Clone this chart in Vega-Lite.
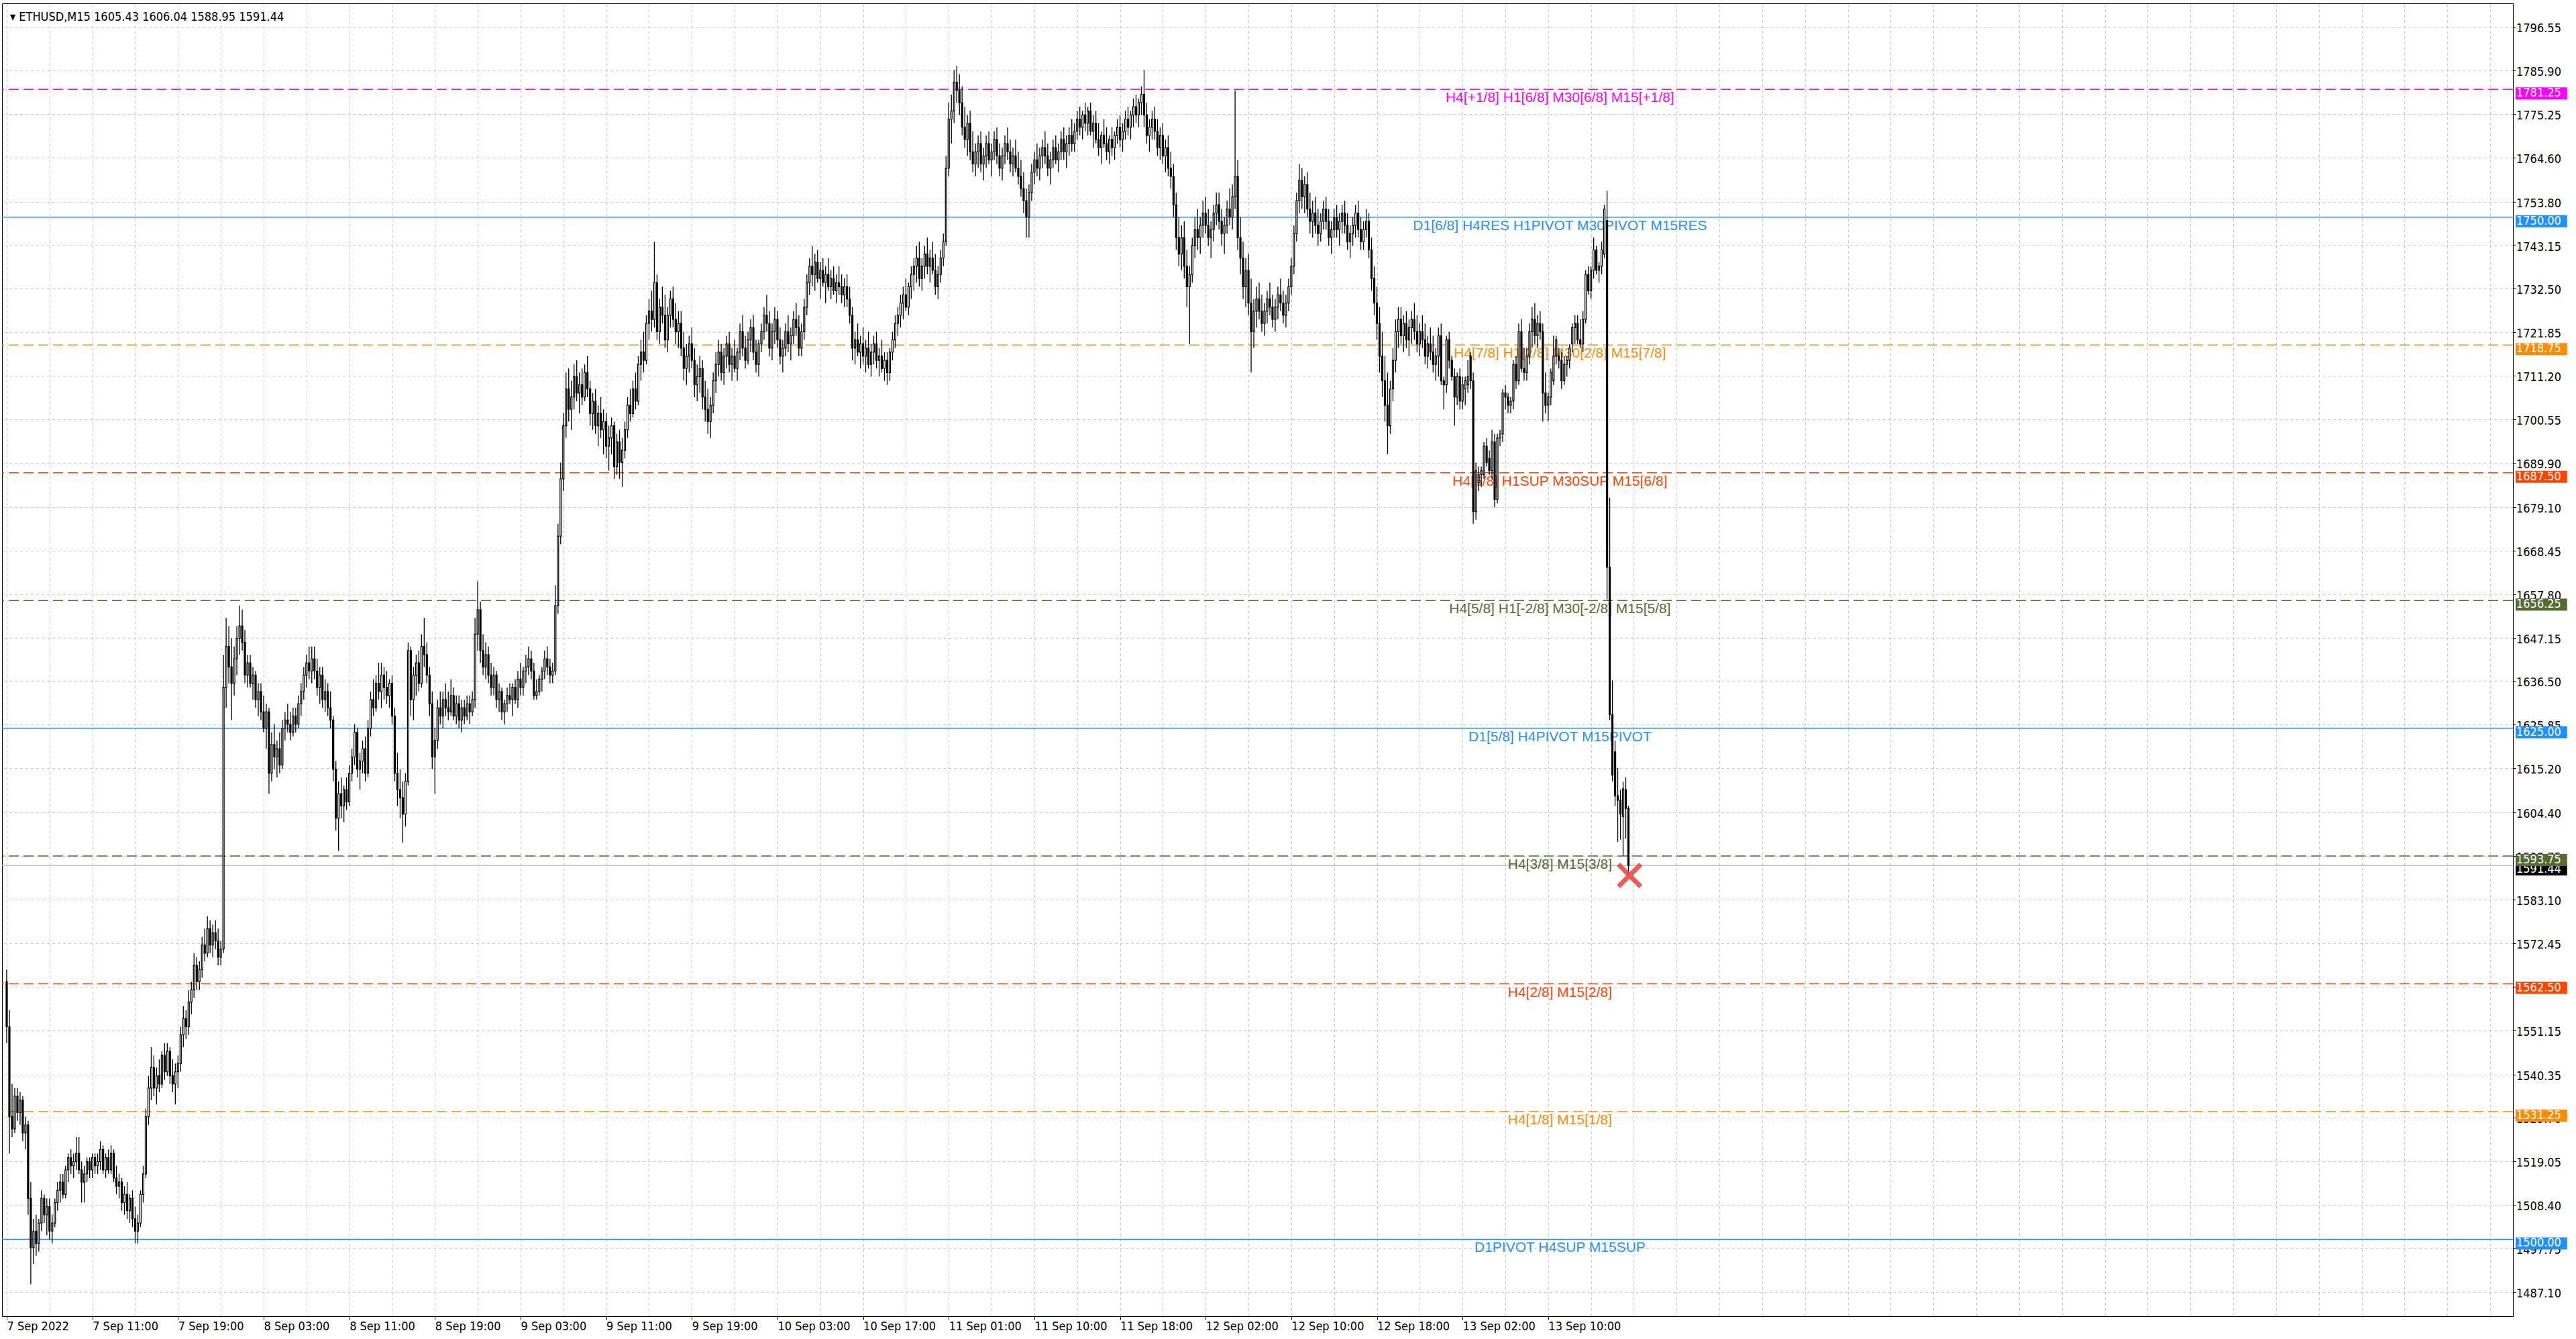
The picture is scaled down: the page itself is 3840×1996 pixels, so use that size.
{
  "$schema": "https://vega.github.io/schema/vega-lite/v6.json",
  "description": "ETHUSD M15 candles with Murrey math levels",
  "width": 3743,
  "height": 1957,
  "autosize": {"type": "none"},
  "padding": {"left": 3, "top": 5, "right": 94, "bottom": 34},
  "background": "white",
  "config": {
    "view": {"stroke": "black", "strokeWidth": 1},
    "axis": {
      "labelFont": "DejaVu Sans Condensed",
      "labelFontSize": 18,
      "labelColor": "black",
      "domainColor": "black",
      "tickColor": "black",
      "gridColor": "#c4c4c4",
      "gridDash": [4, 4],
      "gridWidth": 1,
      "zindex": 0
    }
  },
  "datasets": {
    "levels": [
      {"price": 1781.25, "label": "H4[+1/8] H1[6/8] M30[6/8] M15[+1/8]", "kind": "ext"},
      {"price": 1750.00, "label": "D1[6/8] H4RES H1PIVOT M30PIVOT M15RES", "kind": "major"},
      {"price": 1718.75, "label": "H4[7/8] H1[2/8] M30[2/8] M15[7/8]", "kind": "weak"},
      {"price": 1687.50, "label": "H4[6/8] H1SUP M30SUP M15[6/8]", "kind": "rev"},
      {"price": 1656.25, "label": "H4[5/8] H1[-2/8] M30[-2/8] M15[5/8]", "kind": "range"},
      {"price": 1625.00, "label": "D1[5/8] H4PIVOT M15PIVOT", "kind": "major"},
      {"price": 1593.75, "label": "H4[3/8] M15[3/8]", "kind": "range"},
      {"price": 1562.50, "label": "H4[2/8] M15[2/8]", "kind": "rev"},
      {"price": 1531.25, "label": "H4[1/8] M15[1/8]", "kind": "weak"},
      {"price": 1500.00, "label": "D1PIVOT H4SUP M15SUP", "kind": "major"}
    ],
    "yticks": [
      {"v": 1487.10}, {"v": 1497.75}, {"v": 1508.40}, {"v": 1519.05}, {"v": 1529.70}, {"v": 1540.35},
      {"v": 1551.15}, {"v": 1561.80}, {"v": 1572.45}, {"v": 1583.10}, {"v": 1593.75}, {"v": 1604.40},
      {"v": 1615.20}, {"v": 1625.85}, {"v": 1636.50}, {"v": 1647.15}, {"v": 1657.80}, {"v": 1668.45},
      {"v": 1679.10}, {"v": 1689.90}, {"v": 1700.55}, {"v": 1711.20}, {"v": 1721.85}, {"v": 1732.50},
      {"v": 1743.15}, {"v": 1753.80}, {"v": 1764.60}, {"v": 1775.25}, {"v": 1785.90}, {"v": 1796.55}
    ],
    "bid": [{"price": 1591.44}],
    "marker": [{"i": 606.4, "p": 1589.0}],
    "header": [{"text": "▾  ETHUSD,M15  1605.43 1606.04 1588.95 1591.44"}],
    "bars": [
      {"i":0,"o":1563,"h":1566,"l":1548,"c":1552},
      {"i":1,"o":1552,"h":1556,"l":1521,"c":1530},
      {"i":2,"o":1530,"h":1538,"l":1525,"c":1527},
      {"i":3,"o":1527,"h":1537,"l":1526,"c":1535},
      {"i":4,"o":1535,"h":1537,"l":1529,"c":1531},
      {"i":5,"o":1531,"h":1536,"l":1528,"c":1534},
      {"i":6,"o":1534,"h":1535,"l":1524,"c":1526},
      {"i":7,"o":1526,"h":1530,"l":1522,"c":1528},
      {"i":8,"o":1528,"h":1529,"l":1506,"c":1510},
      {"i":9,"o":1510,"h":1514,"l":1489,"c":1498},
      {"i":10,"o":1498,"h":1505,"l":1494,"c":1502},
      {"i":11,"o":1502,"h":1506,"l":1496,"c":1499},
      {"i":12,"o":1499,"h":1505,"l":1497,"c":1504},
      {"i":13,"o":1504,"h":1512,"l":1502,"c":1510},
      {"i":14,"o":1510,"h":1511,"l":1504,"c":1506},
      {"i":15,"o":1506,"h":1510,"l":1501,"c":1508},
      {"i":16,"o":1508,"h":1510,"l":1500,"c":1502},
      {"i":17,"o":1502,"h":1506,"l":1499,"c":1504},
      {"i":18,"o":1504,"h":1510,"l":1503,"c":1509},
      {"i":19,"o":1509,"h":1514,"l":1507,"c":1512},
      {"i":20,"o":1512,"h":1516,"l":1509,"c":1514},
      {"i":21,"o":1514,"h":1516,"l":1510,"c":1511},
      {"i":22,"o":1511,"h":1518,"l":1510,"c":1517},
      {"i":23,"o":1517,"h":1521,"l":1514,"c":1520},
      {"i":24,"o":1520,"h":1522,"l":1516,"c":1518},
      {"i":25,"o":1518,"h":1521,"l":1515,"c":1519},
      {"i":26,"o":1519,"h":1525,"l":1517,"c":1521},
      {"i":27,"o":1521,"h":1525,"l":1516,"c":1517},
      {"i":28,"o":1517,"h":1519,"l":1509,"c":1514},
      {"i":29,"o":1514,"h":1518,"l":1509,"c":1516},
      {"i":30,"o":1516,"h":1520,"l":1514,"c":1519},
      {"i":31,"o":1519,"h":1520,"l":1515,"c":1517},
      {"i":32,"o":1517,"h":1521,"l":1515,"c":1520},
      {"i":33,"o":1520,"h":1521,"l":1516,"c":1518},
      {"i":34,"o":1518,"h":1521,"l":1516,"c":1519},
      {"i":35,"o":1519,"h":1524,"l":1517,"c":1522},
      {"i":36,"o":1522,"h":1523,"l":1516,"c":1517},
      {"i":37,"o":1517,"h":1521,"l":1515,"c":1520},
      {"i":38,"o":1520,"h":1522,"l":1516,"c":1517},
      {"i":39,"o":1517,"h":1523,"l":1516,"c":1521},
      {"i":40,"o":1521,"h":1522,"l":1514,"c":1515},
      {"i":41,"o":1515,"h":1518,"l":1511,"c":1513},
      {"i":42,"o":1513,"h":1516,"l":1510,"c":1514},
      {"i":43,"o":1514,"h":1515,"l":1507,"c":1509},
      {"i":44,"o":1509,"h":1513,"l":1506,"c":1511},
      {"i":45,"o":1511,"h":1514,"l":1505,"c":1507},
      {"i":46,"o":1507,"h":1511,"l":1504,"c":1510},
      {"i":47,"o":1510,"h":1512,"l":1503,"c":1505},
      {"i":48,"o":1505,"h":1508,"l":1499,"c":1502},
      {"i":49,"o":1502,"h":1506,"l":1499,"c":1504},
      {"i":50,"o":1504,"h":1512,"l":1503,"c":1511},
      {"i":51,"o":1511,"h":1518,"l":1509,"c":1516},
      {"i":52,"o":1516,"h":1532,"l":1515,"c":1530},
      {"i":53,"o":1530,"h":1540,"l":1528,"c":1537},
      {"i":54,"o":1537,"h":1547,"l":1534,"c":1542},
      {"i":55,"o":1542,"h":1545,"l":1535,"c":1537},
      {"i":56,"o":1537,"h":1542,"l":1533,"c":1540},
      {"i":57,"o":1540,"h":1544,"l":1536,"c":1538},
      {"i":58,"o":1538,"h":1546,"l":1537,"c":1545},
      {"i":59,"o":1545,"h":1548,"l":1539,"c":1541},
      {"i":60,"o":1541,"h":1548,"l":1540,"c":1546},
      {"i":61,"o":1546,"h":1547,"l":1538,"c":1540},
      {"i":62,"o":1540,"h":1544,"l":1536,"c":1538},
      {"i":63,"o":1538,"h":1543,"l":1533,"c":1541},
      {"i":64,"o":1541,"h":1545,"l":1537,"c":1543},
      {"i":65,"o":1543,"h":1552,"l":1541,"c":1550},
      {"i":66,"o":1550,"h":1557,"l":1547,"c":1554},
      {"i":67,"o":1554,"h":1556,"l":1549,"c":1552},
      {"i":68,"o":1552,"h":1561,"l":1550,"c":1558},
      {"i":69,"o":1558,"h":1563,"l":1555,"c":1561},
      {"i":70,"o":1561,"h":1570,"l":1559,"c":1567},
      {"i":71,"o":1567,"h":1569,"l":1561,"c":1563},
      {"i":72,"o":1563,"h":1568,"l":1561,"c":1566},
      {"i":73,"o":1566,"h":1574,"l":1564,"c":1572},
      {"i":74,"o":1572,"h":1576,"l":1568,"c":1570},
      {"i":75,"o":1570,"h":1579,"l":1569,"c":1576},
      {"i":76,"o":1576,"h":1578,"l":1570,"c":1572},
      {"i":77,"o":1572,"h":1577,"l":1569,"c":1575},
      {"i":78,"o":1575,"h":1578,"l":1571,"c":1573},
      {"i":79,"o":1573,"h":1576,"l":1567,"c":1569},
      {"i":80,"o":1569,"h":1573,"l":1567,"c":1571},
      {"i":81,"o":1571,"h":1643,"l":1570,"c":1635},
      {"i":82,"o":1635,"h":1652,"l":1630,"c":1645},
      {"i":83,"o":1645,"h":1650,"l":1636,"c":1640},
      {"i":84,"o":1640,"h":1647,"l":1627,"c":1636},
      {"i":85,"o":1636,"h":1645,"l":1633,"c":1642},
      {"i":86,"o":1642,"h":1650,"l":1638,"c":1647},
      {"i":87,"o":1647,"h":1655,"l":1643,"c":1650},
      {"i":88,"o":1650,"h":1654,"l":1644,"c":1646},
      {"i":89,"o":1646,"h":1649,"l":1636,"c":1638},
      {"i":90,"o":1638,"h":1643,"l":1635,"c":1641},
      {"i":91,"o":1641,"h":1643,"l":1635,"c":1636},
      {"i":92,"o":1636,"h":1640,"l":1632,"c":1638},
      {"i":93,"o":1638,"h":1639,"l":1630,"c":1632},
      {"i":94,"o":1632,"h":1636,"l":1628,"c":1634},
      {"i":95,"o":1634,"h":1636,"l":1627,"c":1629},
      {"i":96,"o":1629,"h":1633,"l":1624,"c":1625},
      {"i":97,"o":1625,"h":1631,"l":1620,"c":1629},
      {"i":98,"o":1629,"h":1630,"l":1609,"c":1614},
      {"i":99,"o":1614,"h":1624,"l":1612,"c":1621},
      {"i":100,"o":1621,"h":1626,"l":1615,"c":1618},
      {"i":101,"o":1618,"h":1622,"l":1613,"c":1620},
      {"i":102,"o":1620,"h":1624,"l":1614,"c":1616},
      {"i":103,"o":1616,"h":1627,"l":1615,"c":1625},
      {"i":104,"o":1625,"h":1629,"l":1622,"c":1627},
      {"i":105,"o":1627,"h":1631,"l":1624,"c":1626},
      {"i":106,"o":1626,"h":1629,"l":1622,"c":1624},
      {"i":107,"o":1624,"h":1630,"l":1623,"c":1628},
      {"i":108,"o":1628,"h":1630,"l":1624,"c":1626},
      {"i":109,"o":1626,"h":1633,"l":1625,"c":1631},
      {"i":110,"o":1631,"h":1636,"l":1628,"c":1634},
      {"i":111,"o":1634,"h":1640,"l":1632,"c":1638},
      {"i":112,"o":1638,"h":1643,"l":1635,"c":1641},
      {"i":113,"o":1641,"h":1645,"l":1637,"c":1639},
      {"i":114,"o":1639,"h":1645,"l":1636,"c":1642},
      {"i":115,"o":1642,"h":1645,"l":1637,"c":1639},
      {"i":116,"o":1639,"h":1642,"l":1633,"c":1635},
      {"i":117,"o":1635,"h":1640,"l":1631,"c":1638},
      {"i":118,"o":1638,"h":1640,"l":1630,"c":1632},
      {"i":119,"o":1632,"h":1637,"l":1629,"c":1634},
      {"i":120,"o":1634,"h":1636,"l":1628,"c":1630},
      {"i":121,"o":1630,"h":1634,"l":1625,"c":1627},
      {"i":122,"o":1627,"h":1628,"l":1612,"c":1615},
      {"i":123,"o":1615,"h":1617,"l":1600,"c":1603},
      {"i":124,"o":1603,"h":1612,"l":1595,"c":1609},
      {"i":125,"o":1609,"h":1613,"l":1603,"c":1606},
      {"i":126,"o":1606,"h":1611,"l":1602,"c":1610},
      {"i":127,"o":1610,"h":1613,"l":1605,"c":1607},
      {"i":128,"o":1607,"h":1616,"l":1606,"c":1614},
      {"i":129,"o":1614,"h":1620,"l":1612,"c":1618},
      {"i":130,"o":1618,"h":1626,"l":1616,"c":1624},
      {"i":131,"o":1624,"h":1625,"l":1613,"c":1615},
      {"i":132,"o":1615,"h":1619,"l":1610,"c":1617},
      {"i":133,"o":1617,"h":1622,"l":1614,"c":1620},
      {"i":134,"o":1620,"h":1623,"l":1612,"c":1614},
      {"i":135,"o":1614,"h":1627,"l":1613,"c":1625},
      {"i":136,"o":1625,"h":1634,"l":1623,"c":1632},
      {"i":137,"o":1632,"h":1637,"l":1628,"c":1630},
      {"i":138,"o":1630,"h":1638,"l":1629,"c":1636},
      {"i":139,"o":1636,"h":1641,"l":1632,"c":1634},
      {"i":140,"o":1634,"h":1641,"l":1630,"c":1638},
      {"i":141,"o":1638,"h":1640,"l":1632,"c":1635},
      {"i":142,"o":1635,"h":1639,"l":1631,"c":1633},
      {"i":143,"o":1633,"h":1637,"l":1630,"c":1636},
      {"i":144,"o":1636,"h":1638,"l":1626,"c":1628},
      {"i":145,"o":1628,"h":1630,"l":1612,"c":1614},
      {"i":146,"o":1614,"h":1619,"l":1606,"c":1610},
      {"i":147,"o":1610,"h":1615,"l":1603,"c":1608},
      {"i":148,"o":1608,"h":1612,"l":1597,"c":1604},
      {"i":149,"o":1604,"h":1614,"l":1601,"c":1612},
      {"i":150,"o":1612,"h":1646,"l":1611,"c":1644},
      {"i":151,"o":1644,"h":1645,"l":1628,"c":1632},
      {"i":152,"o":1632,"h":1640,"l":1627,"c":1638},
      {"i":153,"o":1638,"h":1643,"l":1633,"c":1641},
      {"i":154,"o":1641,"h":1644,"l":1634,"c":1636},
      {"i":155,"o":1636,"h":1648,"l":1635,"c":1645},
      {"i":156,"o":1645,"h":1652,"l":1640,"c":1643},
      {"i":157,"o":1643,"h":1646,"l":1636,"c":1638},
      {"i":158,"o":1638,"h":1640,"l":1628,"c":1631},
      {"i":159,"o":1631,"h":1634,"l":1615,"c":1618},
      {"i":160,"o":1618,"h":1625,"l":1609,"c":1622},
      {"i":161,"o":1622,"h":1632,"l":1620,"c":1630},
      {"i":162,"o":1630,"h":1634,"l":1626,"c":1628},
      {"i":163,"o":1628,"h":1634,"l":1625,"c":1632},
      {"i":164,"o":1632,"h":1636,"l":1628,"c":1630},
      {"i":165,"o":1630,"h":1634,"l":1627,"c":1629},
      {"i":166,"o":1629,"h":1637,"l":1628,"c":1633},
      {"i":167,"o":1633,"h":1635,"l":1627,"c":1628},
      {"i":168,"o":1628,"h":1633,"l":1626,"c":1631},
      {"i":169,"o":1631,"h":1633,"l":1625,"c":1627},
      {"i":170,"o":1627,"h":1632,"l":1624,"c":1630},
      {"i":171,"o":1630,"h":1632,"l":1626,"c":1628},
      {"i":172,"o":1628,"h":1633,"l":1627,"c":1631},
      {"i":173,"o":1631,"h":1633,"l":1626,"c":1629},
      {"i":174,"o":1629,"h":1634,"l":1628,"c":1632},
      {"i":175,"o":1632,"h":1652,"l":1630,"c":1648},
      {"i":176,"o":1648,"h":1661,"l":1644,"c":1654},
      {"i":177,"o":1654,"h":1656,"l":1641,"c":1644},
      {"i":178,"o":1644,"h":1648,"l":1638,"c":1640},
      {"i":179,"o":1640,"h":1646,"l":1637,"c":1643},
      {"i":180,"o":1643,"h":1645,"l":1636,"c":1638},
      {"i":181,"o":1638,"h":1641,"l":1633,"c":1635},
      {"i":182,"o":1635,"h":1640,"l":1633,"c":1638},
      {"i":183,"o":1638,"h":1639,"l":1630,"c":1632},
      {"i":184,"o":1632,"h":1636,"l":1629,"c":1634},
      {"i":185,"o":1634,"h":1635,"l":1627,"c":1629},
      {"i":186,"o":1629,"h":1632,"l":1626,"c":1631},
      {"i":187,"o":1631,"h":1635,"l":1629,"c":1633},
      {"i":188,"o":1633,"h":1636,"l":1631,"c":1632},
      {"i":189,"o":1632,"h":1636,"l":1628,"c":1635},
      {"i":190,"o":1635,"h":1637,"l":1631,"c":1632},
      {"i":191,"o":1632,"h":1639,"l":1630,"c":1637},
      {"i":192,"o":1637,"h":1641,"l":1633,"c":1635},
      {"i":193,"o":1635,"h":1640,"l":1633,"c":1639},
      {"i":194,"o":1639,"h":1643,"l":1636,"c":1640},
      {"i":195,"o":1640,"h":1645,"l":1638,"c":1642},
      {"i":196,"o":1642,"h":1644,"l":1637,"c":1639},
      {"i":197,"o":1639,"h":1641,"l":1632,"c":1633},
      {"i":198,"o":1633,"h":1637,"l":1632,"c":1634},
      {"i":199,"o":1634,"h":1638,"l":1633,"c":1637},
      {"i":200,"o":1637,"h":1640,"l":1634,"c":1639},
      {"i":201,"o":1639,"h":1644,"l":1637,"c":1642},
      {"i":202,"o":1642,"h":1645,"l":1638,"c":1640},
      {"i":203,"o":1640,"h":1642,"l":1636,"c":1638},
      {"i":204,"o":1638,"h":1641,"l":1636,"c":1639},
      {"i":205,"o":1639,"h":1660,"l":1638,"c":1655},
      {"i":206,"o":1655,"h":1675,"l":1653,"c":1672},
      {"i":207,"o":1672,"h":1690,"l":1670,"c":1686},
      {"i":208,"o":1686,"h":1702,"l":1683,"c":1699},
      {"i":209,"o":1699,"h":1712,"l":1696,"c":1708},
      {"i":210,"o":1708,"h":1713,"l":1700,"c":1703},
      {"i":211,"o":1703,"h":1710,"l":1698,"c":1706},
      {"i":212,"o":1706,"h":1714,"l":1703,"c":1711},
      {"i":213,"o":1711,"h":1715,"l":1705,"c":1707},
      {"i":214,"o":1707,"h":1712,"l":1702,"c":1709},
      {"i":215,"o":1709,"h":1713,"l":1704,"c":1706},
      {"i":216,"o":1706,"h":1714,"l":1705,"c":1712},
      {"i":217,"o":1712,"h":1716,"l":1706,"c":1708},
      {"i":218,"o":1708,"h":1710,"l":1699,"c":1702},
      {"i":219,"o":1702,"h":1707,"l":1698,"c":1705},
      {"i":220,"o":1705,"h":1708,"l":1697,"c":1699},
      {"i":221,"o":1699,"h":1704,"l":1694,"c":1702},
      {"i":222,"o":1702,"h":1706,"l":1696,"c":1698},
      {"i":223,"o":1698,"h":1703,"l":1692,"c":1700},
      {"i":224,"o":1700,"h":1702,"l":1691,"c":1694},
      {"i":225,"o":1694,"h":1699,"l":1688,"c":1696},
      {"i":226,"o":1696,"h":1701,"l":1692,"c":1699},
      {"i":227,"o":1699,"h":1700,"l":1686,"c":1689},
      {"i":228,"o":1689,"h":1697,"l":1687,"c":1695},
      {"i":229,"o":1695,"h":1698,"l":1686,"c":1690},
      {"i":230,"o":1690,"h":1696,"l":1684,"c":1693},
      {"i":231,"o":1693,"h":1700,"l":1691,"c":1698},
      {"i":232,"o":1698,"h":1706,"l":1696,"c":1704},
      {"i":233,"o":1704,"h":1708,"l":1700,"c":1702},
      {"i":234,"o":1702,"h":1710,"l":1701,"c":1708},
      {"i":235,"o":1708,"h":1712,"l":1703,"c":1705},
      {"i":236,"o":1705,"h":1716,"l":1704,"c":1714},
      {"i":237,"o":1714,"h":1720,"l":1710,"c":1717},
      {"i":238,"o":1717,"h":1722,"l":1712,"c":1715},
      {"i":239,"o":1715,"h":1726,"l":1714,"c":1724},
      {"i":240,"o":1724,"h":1730,"l":1720,"c":1727},
      {"i":241,"o":1727,"h":1732,"l":1722,"c":1725},
      {"i":242,"o":1725,"h":1744,"l":1723,"c":1734},
      {"i":243,"o":1734,"h":1736,"l":1720,"c":1722},
      {"i":244,"o":1722,"h":1730,"l":1719,"c":1728},
      {"i":245,"o":1728,"h":1733,"l":1724,"c":1726},
      {"i":246,"o":1726,"h":1731,"l":1718,"c":1720},
      {"i":247,"o":1720,"h":1728,"l":1717,"c":1726},
      {"i":248,"o":1726,"h":1732,"l":1723,"c":1730},
      {"i":249,"o":1730,"h":1733,"l":1723,"c":1725},
      {"i":250,"o":1725,"h":1729,"l":1719,"c":1722},
      {"i":251,"o":1722,"h":1727,"l":1718,"c":1724},
      {"i":252,"o":1724,"h":1727,"l":1716,"c":1718},
      {"i":253,"o":1718,"h":1722,"l":1710,"c":1713},
      {"i":254,"o":1713,"h":1719,"l":1709,"c":1716},
      {"i":255,"o":1716,"h":1721,"l":1712,"c":1719},
      {"i":256,"o":1719,"h":1723,"l":1713,"c":1715},
      {"i":257,"o":1715,"h":1718,"l":1706,"c":1709},
      {"i":258,"o":1709,"h":1714,"l":1705,"c":1711},
      {"i":259,"o":1711,"h":1716,"l":1707,"c":1713},
      {"i":260,"o":1713,"h":1715,"l":1703,"c":1706},
      {"i":261,"o":1706,"h":1710,"l":1700,"c":1703},
      {"i":262,"o":1703,"h":1708,"l":1697,"c":1700},
      {"i":263,"o":1700,"h":1706,"l":1696,"c":1704},
      {"i":264,"o":1704,"h":1712,"l":1702,"c":1710},
      {"i":265,"o":1710,"h":1717,"l":1707,"c":1714},
      {"i":266,"o":1714,"h":1720,"l":1711,"c":1717},
      {"i":267,"o":1717,"h":1719,"l":1710,"c":1712},
      {"i":268,"o":1712,"h":1718,"l":1709,"c":1716},
      {"i":269,"o":1716,"h":1721,"l":1713,"c":1719},
      {"i":270,"o":1719,"h":1722,"l":1712,"c":1714},
      {"i":271,"o":1714,"h":1718,"l":1710,"c":1716},
      {"i":272,"o":1716,"h":1720,"l":1712,"c":1713},
      {"i":273,"o":1713,"h":1718,"l":1710,"c":1717},
      {"i":274,"o":1717,"h":1724,"l":1715,"c":1722},
      {"i":275,"o":1722,"h":1726,"l":1716,"c":1718},
      {"i":276,"o":1718,"h":1721,"l":1713,"c":1715},
      {"i":277,"o":1715,"h":1722,"l":1714,"c":1720},
      {"i":278,"o":1720,"h":1725,"l":1717,"c":1723},
      {"i":279,"o":1723,"h":1726,"l":1715,"c":1717},
      {"i":280,"o":1717,"h":1720,"l":1712,"c":1714},
      {"i":281,"o":1714,"h":1720,"l":1711,"c":1719},
      {"i":282,"o":1719,"h":1724,"l":1717,"c":1722},
      {"i":283,"o":1722,"h":1728,"l":1720,"c":1726},
      {"i":284,"o":1726,"h":1731,"l":1722,"c":1724},
      {"i":285,"o":1724,"h":1727,"l":1716,"c":1718},
      {"i":286,"o":1718,"h":1724,"l":1715,"c":1722},
      {"i":287,"o":1722,"h":1728,"l":1719,"c":1725},
      {"i":288,"o":1725,"h":1727,"l":1718,"c":1720},
      {"i":289,"o":1720,"h":1723,"l":1714,"c":1716},
      {"i":290,"o":1716,"h":1720,"l":1712,"c":1718},
      {"i":291,"o":1718,"h":1724,"l":1716,"c":1722},
      {"i":292,"o":1722,"h":1726,"l":1717,"c":1719},
      {"i":293,"o":1719,"h":1723,"l":1715,"c":1721},
      {"i":294,"o":1721,"h":1727,"l":1719,"c":1725},
      {"i":295,"o":1725,"h":1729,"l":1721,"c":1723},
      {"i":296,"o":1723,"h":1726,"l":1716,"c":1718},
      {"i":297,"o":1718,"h":1724,"l":1716,"c":1722},
      {"i":298,"o":1722,"h":1730,"l":1720,"c":1728},
      {"i":299,"o":1728,"h":1736,"l":1726,"c":1734},
      {"i":300,"o":1734,"h":1740,"l":1731,"c":1738},
      {"i":301,"o":1738,"h":1743,"l":1733,"c":1736},
      {"i":302,"o":1736,"h":1741,"l":1732,"c":1739},
      {"i":303,"o":1739,"h":1742,"l":1734,"c":1735},
      {"i":304,"o":1735,"h":1739,"l":1730,"c":1737},
      {"i":305,"o":1737,"h":1740,"l":1733,"c":1734},
      {"i":306,"o":1734,"h":1738,"l":1729,"c":1736},
      {"i":307,"o":1736,"h":1740,"l":1732,"c":1733},
      {"i":308,"o":1733,"h":1737,"l":1730,"c":1735},
      {"i":309,"o":1735,"h":1738,"l":1731,"c":1732},
      {"i":310,"o":1732,"h":1736,"l":1729,"c":1734},
      {"i":311,"o":1734,"h":1738,"l":1731,"c":1733},
      {"i":312,"o":1733,"h":1736,"l":1729,"c":1731},
      {"i":313,"o":1731,"h":1735,"l":1728,"c":1733},
      {"i":314,"o":1733,"h":1736,"l":1728,"c":1730},
      {"i":315,"o":1730,"h":1733,"l":1724,"c":1726},
      {"i":316,"o":1726,"h":1728,"l":1715,"c":1718},
      {"i":317,"o":1718,"h":1722,"l":1714,"c":1720},
      {"i":318,"o":1720,"h":1724,"l":1716,"c":1717},
      {"i":319,"o":1717,"h":1721,"l":1713,"c":1719},
      {"i":320,"o":1719,"h":1723,"l":1714,"c":1716},
      {"i":321,"o":1716,"h":1720,"l":1712,"c":1718},
      {"i":322,"o":1718,"h":1722,"l":1713,"c":1714},
      {"i":323,"o":1714,"h":1719,"l":1711,"c":1717},
      {"i":324,"o":1717,"h":1721,"l":1714,"c":1719},
      {"i":325,"o":1719,"h":1722,"l":1713,"c":1715},
      {"i":326,"o":1715,"h":1718,"l":1711,"c":1716},
      {"i":327,"o":1716,"h":1720,"l":1712,"c":1713},
      {"i":328,"o":1713,"h":1717,"l":1710,"c":1715},
      {"i":329,"o":1715,"h":1717,"l":1709,"c":1712},
      {"i":330,"o":1712,"h":1718,"l":1710,"c":1717},
      {"i":331,"o":1717,"h":1722,"l":1715,"c":1720},
      {"i":332,"o":1720,"h":1726,"l":1718,"c":1724},
      {"i":333,"o":1724,"h":1728,"l":1721,"c":1726},
      {"i":334,"o":1726,"h":1731,"l":1723,"c":1729},
      {"i":335,"o":1729,"h":1733,"l":1725,"c":1731},
      {"i":336,"o":1731,"h":1735,"l":1727,"c":1728},
      {"i":337,"o":1728,"h":1734,"l":1726,"c":1733},
      {"i":338,"o":1733,"h":1738,"l":1730,"c":1736},
      {"i":339,"o":1736,"h":1740,"l":1732,"c":1738},
      {"i":340,"o":1738,"h":1743,"l":1734,"c":1740},
      {"i":341,"o":1740,"h":1744,"l":1733,"c":1735},
      {"i":342,"o":1735,"h":1740,"l":1732,"c":1738},
      {"i":343,"o":1738,"h":1743,"l":1735,"c":1741},
      {"i":344,"o":1741,"h":1745,"l":1736,"c":1738},
      {"i":345,"o":1738,"h":1742,"l":1734,"c":1740},
      {"i":346,"o":1740,"h":1744,"l":1736,"c":1737},
      {"i":347,"o":1737,"h":1741,"l":1731,"c":1733},
      {"i":348,"o":1733,"h":1738,"l":1730,"c":1736},
      {"i":349,"o":1736,"h":1742,"l":1734,"c":1740},
      {"i":350,"o":1740,"h":1746,"l":1738,"c":1744},
      {"i":351,"o":1744,"h":1765,"l":1743,"c":1762},
      {"i":352,"o":1762,"h":1778,"l":1760,"c":1774},
      {"i":353,"o":1774,"h":1780,"l":1768,"c":1776},
      {"i":354,"o":1776,"h":1786,"l":1773,"c":1783},
      {"i":355,"o":1783,"h":1787,"l":1778,"c":1781},
      {"i":356,"o":1781,"h":1785,"l":1775,"c":1778},
      {"i":357,"o":1778,"h":1782,"l":1770,"c":1772},
      {"i":358,"o":1772,"h":1777,"l":1767,"c":1769},
      {"i":359,"o":1769,"h":1775,"l":1765,"c":1773},
      {"i":360,"o":1773,"h":1776,"l":1764,"c":1766},
      {"i":361,"o":1766,"h":1771,"l":1761,"c":1763},
      {"i":362,"o":1763,"h":1768,"l":1760,"c":1766},
      {"i":363,"o":1766,"h":1770,"l":1762,"c":1768},
      {"i":364,"o":1768,"h":1771,"l":1761,"c":1763},
      {"i":365,"o":1763,"h":1767,"l":1759,"c":1765},
      {"i":366,"o":1765,"h":1770,"l":1762,"c":1768},
      {"i":367,"o":1768,"h":1771,"l":1763,"c":1764},
      {"i":368,"o":1764,"h":1768,"l":1760,"c":1766},
      {"i":369,"o":1766,"h":1771,"l":1764,"c":1769},
      {"i":370,"o":1769,"h":1772,"l":1763,"c":1765},
      {"i":371,"o":1765,"h":1768,"l":1760,"c":1762},
      {"i":372,"o":1762,"h":1767,"l":1759,"c":1765},
      {"i":373,"o":1765,"h":1770,"l":1763,"c":1768},
      {"i":374,"o":1768,"h":1772,"l":1764,"c":1766},
      {"i":375,"o":1766,"h":1769,"l":1761,"c":1763},
      {"i":376,"o":1763,"h":1767,"l":1760,"c":1765},
      {"i":377,"o":1765,"h":1769,"l":1761,"c":1762},
      {"i":378,"o":1762,"h":1766,"l":1758,"c":1760},
      {"i":379,"o":1760,"h":1764,"l":1755,"c":1757},
      {"i":380,"o":1757,"h":1761,"l":1751,"c":1754},
      {"i":381,"o":1754,"h":1757,"l":1745,"c":1750},
      {"i":382,"o":1750,"h":1758,"l":1745,"c":1756},
      {"i":383,"o":1756,"h":1763,"l":1754,"c":1761},
      {"i":384,"o":1761,"h":1766,"l":1758,"c":1764},
      {"i":385,"o":1764,"h":1768,"l":1760,"c":1762},
      {"i":386,"o":1762,"h":1767,"l":1759,"c":1765},
      {"i":387,"o":1765,"h":1769,"l":1762,"c":1767},
      {"i":388,"o":1767,"h":1771,"l":1763,"c":1765},
      {"i":389,"o":1765,"h":1768,"l":1760,"c":1762},
      {"i":390,"o":1762,"h":1766,"l":1758,"c":1764},
      {"i":391,"o":1764,"h":1769,"l":1762,"c":1767},
      {"i":392,"o":1767,"h":1770,"l":1763,"c":1764},
      {"i":393,"o":1764,"h":1768,"l":1761,"c":1766},
      {"i":394,"o":1766,"h":1771,"l":1764,"c":1769},
      {"i":395,"o":1769,"h":1772,"l":1764,"c":1766},
      {"i":396,"o":1766,"h":1770,"l":1762,"c":1768},
      {"i":397,"o":1768,"h":1772,"l":1765,"c":1770},
      {"i":398,"o":1770,"h":1774,"l":1766,"c":1768},
      {"i":399,"o":1768,"h":1773,"l":1766,"c":1771},
      {"i":400,"o":1771,"h":1776,"l":1769,"c":1774},
      {"i":401,"o":1774,"h":1777,"l":1770,"c":1772},
      {"i":402,"o":1772,"h":1776,"l":1769,"c":1775},
      {"i":403,"o":1775,"h":1778,"l":1771,"c":1773},
      {"i":404,"o":1773,"h":1777,"l":1770,"c":1776},
      {"i":405,"o":1776,"h":1778,"l":1770,"c":1771},
      {"i":406,"o":1771,"h":1775,"l":1767,"c":1773},
      {"i":407,"o":1773,"h":1776,"l":1768,"c":1769},
      {"i":408,"o":1769,"h":1773,"l":1765,"c":1767},
      {"i":409,"o":1767,"h":1771,"l":1763,"c":1770},
      {"i":410,"o":1770,"h":1774,"l":1767,"c":1768},
      {"i":411,"o":1768,"h":1772,"l":1764,"c":1766},
      {"i":412,"o":1766,"h":1770,"l":1763,"c":1769},
      {"i":413,"o":1769,"h":1772,"l":1765,"c":1767},
      {"i":414,"o":1767,"h":1771,"l":1764,"c":1770},
      {"i":415,"o":1770,"h":1774,"l":1768,"c":1772},
      {"i":416,"o":1772,"h":1775,"l":1767,"c":1769},
      {"i":417,"o":1769,"h":1773,"l":1766,"c":1771},
      {"i":418,"o":1771,"h":1776,"l":1769,"c":1774},
      {"i":419,"o":1774,"h":1777,"l":1770,"c":1772},
      {"i":420,"o":1772,"h":1776,"l":1769,"c":1775},
      {"i":421,"o":1775,"h":1779,"l":1772,"c":1777},
      {"i":422,"o":1777,"h":1780,"l":1773,"c":1775},
      {"i":423,"o":1775,"h":1779,"l":1772,"c":1778},
      {"i":424,"o":1778,"h":1782,"l":1775,"c":1780},
      {"i":425,"o":1780,"h":1786,"l":1772,"c":1775},
      {"i":426,"o":1775,"h":1778,"l":1768,"c":1770},
      {"i":427,"o":1770,"h":1774,"l":1766,"c":1772},
      {"i":428,"o":1772,"h":1776,"l":1769,"c":1774},
      {"i":429,"o":1774,"h":1777,"l":1769,"c":1771},
      {"i":430,"o":1771,"h":1774,"l":1765,"c":1767},
      {"i":431,"o":1767,"h":1772,"l":1764,"c":1770},
      {"i":432,"o":1770,"h":1773,"l":1763,"c":1765},
      {"i":433,"o":1765,"h":1769,"l":1761,"c":1767},
      {"i":434,"o":1767,"h":1770,"l":1760,"c":1762},
      {"i":435,"o":1762,"h":1766,"l":1757,"c":1760},
      {"i":436,"o":1760,"h":1763,"l":1750,"c":1753},
      {"i":437,"o":1753,"h":1756,"l":1742,"c":1745},
      {"i":438,"o":1745,"h":1750,"l":1738,"c":1741},
      {"i":439,"o":1741,"h":1748,"l":1737,"c":1745},
      {"i":440,"o":1745,"h":1749,"l":1735,"c":1738},
      {"i":441,"o":1738,"h":1742,"l":1728,"c":1733},
      {"i":442,"o":1733,"h":1738,"l":1719,"c":1736},
      {"i":443,"o":1736,"h":1745,"l":1734,"c":1743},
      {"i":444,"o":1743,"h":1750,"l":1740,"c":1747},
      {"i":445,"o":1747,"h":1752,"l":1742,"c":1745},
      {"i":446,"o":1745,"h":1750,"l":1741,"c":1748},
      {"i":447,"o":1748,"h":1754,"l":1745,"c":1751},
      {"i":448,"o":1751,"h":1755,"l":1746,"c":1748},
      {"i":449,"o":1748,"h":1752,"l":1743,"c":1745},
      {"i":450,"o":1745,"h":1749,"l":1740,"c":1747},
      {"i":451,"o":1747,"h":1753,"l":1744,"c":1751},
      {"i":452,"o":1751,"h":1756,"l":1748,"c":1753},
      {"i":453,"o":1753,"h":1756,"l":1747,"c":1749},
      {"i":454,"o":1749,"h":1752,"l":1743,"c":1746},
      {"i":455,"o":1746,"h":1750,"l":1741,"c":1748},
      {"i":456,"o":1748,"h":1754,"l":1746,"c":1752},
      {"i":457,"o":1752,"h":1757,"l":1748,"c":1750},
      {"i":458,"o":1750,"h":1758,"l":1747,"c":1755},
      {"i":459,"o":1755,"h":1781,"l":1752,"c":1760},
      {"i":460,"o":1760,"h":1764,"l":1742,"c":1745},
      {"i":461,"o":1745,"h":1750,"l":1736,"c":1740},
      {"i":462,"o":1740,"h":1744,"l":1730,"c":1733},
      {"i":463,"o":1733,"h":1740,"l":1728,"c":1737},
      {"i":464,"o":1737,"h":1741,"l":1726,"c":1729},
      {"i":465,"o":1729,"h":1735,"l":1712,"c":1722},
      {"i":466,"o":1722,"h":1730,"l":1718,"c":1727},
      {"i":467,"o":1727,"h":1733,"l":1723,"c":1730},
      {"i":468,"o":1730,"h":1734,"l":1725,"c":1727},
      {"i":469,"o":1727,"h":1731,"l":1722,"c":1724},
      {"i":470,"o":1724,"h":1729,"l":1721,"c":1727},
      {"i":471,"o":1727,"h":1732,"l":1724,"c":1730},
      {"i":472,"o":1730,"h":1734,"l":1726,"c":1728},
      {"i":473,"o":1728,"h":1731,"l":1723,"c":1725},
      {"i":474,"o":1725,"h":1730,"l":1722,"c":1728},
      {"i":475,"o":1728,"h":1733,"l":1725,"c":1731},
      {"i":476,"o":1731,"h":1735,"l":1727,"c":1729},
      {"i":477,"o":1729,"h":1732,"l":1724,"c":1726},
      {"i":478,"o":1726,"h":1731,"l":1723,"c":1729},
      {"i":479,"o":1729,"h":1735,"l":1727,"c":1733},
      {"i":480,"o":1733,"h":1740,"l":1731,"c":1738},
      {"i":481,"o":1738,"h":1748,"l":1736,"c":1746},
      {"i":482,"o":1746,"h":1756,"l":1744,"c":1754},
      {"i":483,"o":1754,"h":1763,"l":1751,"c":1759},
      {"i":484,"o":1759,"h":1762,"l":1752,"c":1755},
      {"i":485,"o":1755,"h":1760,"l":1751,"c":1758},
      {"i":486,"o":1758,"h":1761,"l":1750,"c":1752},
      {"i":487,"o":1752,"h":1756,"l":1746,"c":1749},
      {"i":488,"o":1749,"h":1754,"l":1745,"c":1751},
      {"i":489,"o":1751,"h":1755,"l":1746,"c":1748},
      {"i":490,"o":1748,"h":1752,"l":1743,"c":1746},
      {"i":491,"o":1746,"h":1751,"l":1744,"c":1749},
      {"i":492,"o":1749,"h":1754,"l":1747,"c":1752},
      {"i":493,"o":1752,"h":1755,"l":1747,"c":1749},
      {"i":494,"o":1749,"h":1752,"l":1743,"c":1745},
      {"i":495,"o":1745,"h":1749,"l":1741,"c":1747},
      {"i":496,"o":1747,"h":1752,"l":1745,"c":1750},
      {"i":497,"o":1750,"h":1753,"l":1745,"c":1747},
      {"i":498,"o":1747,"h":1751,"l":1743,"c":1749},
      {"i":499,"o":1749,"h":1753,"l":1746,"c":1751},
      {"i":500,"o":1751,"h":1754,"l":1746,"c":1748},
      {"i":501,"o":1748,"h":1751,"l":1742,"c":1744},
      {"i":502,"o":1744,"h":1748,"l":1740,"c":1746},
      {"i":503,"o":1746,"h":1750,"l":1743,"c":1748},
      {"i":504,"o":1748,"h":1753,"l":1745,"c":1751},
      {"i":505,"o":1751,"h":1754,"l":1745,"c":1747},
      {"i":506,"o":1747,"h":1750,"l":1742,"c":1744},
      {"i":507,"o":1744,"h":1749,"l":1742,"c":1747},
      {"i":508,"o":1747,"h":1752,"l":1745,"c":1749},
      {"i":509,"o":1749,"h":1751,"l":1740,"c":1742},
      {"i":510,"o":1742,"h":1745,"l":1732,"c":1735},
      {"i":511,"o":1735,"h":1738,"l":1726,"c":1729},
      {"i":512,"o":1729,"h":1733,"l":1720,"c":1724},
      {"i":513,"o":1724,"h":1728,"l":1712,"c":1716},
      {"i":514,"o":1716,"h":1722,"l":1706,"c":1710},
      {"i":515,"o":1710,"h":1716,"l":1700,"c":1704},
      {"i":516,"o":1704,"h":1712,"l":1692,"c":1699},
      {"i":517,"o":1699,"h":1710,"l":1697,"c":1708},
      {"i":518,"o":1708,"h":1718,"l":1705,"c":1715},
      {"i":519,"o":1715,"h":1725,"l":1712,"c":1722},
      {"i":520,"o":1722,"h":1728,"l":1718,"c":1725},
      {"i":521,"o":1725,"h":1728,"l":1719,"c":1721},
      {"i":522,"o":1721,"h":1726,"l":1717,"c":1724},
      {"i":523,"o":1724,"h":1727,"l":1718,"c":1720},
      {"i":524,"o":1720,"h":1725,"l":1716,"c":1723},
      {"i":525,"o":1723,"h":1727,"l":1719,"c":1725},
      {"i":526,"o":1725,"h":1729,"l":1720,"c":1722},
      {"i":527,"o":1722,"h":1726,"l":1717,"c":1719},
      {"i":528,"o":1719,"h":1724,"l":1716,"c":1722},
      {"i":529,"o":1722,"h":1726,"l":1718,"c":1720},
      {"i":530,"o":1720,"h":1724,"l":1714,"c":1716},
      {"i":531,"o":1716,"h":1721,"l":1713,"c":1719},
      {"i":532,"o":1719,"h":1723,"l":1715,"c":1717},
      {"i":533,"o":1717,"h":1721,"l":1712,"c":1714},
      {"i":534,"o":1714,"h":1718,"l":1710,"c":1716},
      {"i":535,"o":1716,"h":1723,"l":1711,"c":1721},
      {"i":536,"o":1721,"h":1724,"l":1709,"c":1710},
      {"i":537,"o":1710,"h":1711,"l":1703,"c":1709},
      {"i":538,"o":1709,"h":1721,"l":1707,"c":1720},
      {"i":539,"o":1720,"h":1722,"l":1713,"c":1715},
      {"i":540,"o":1715,"h":1716,"l":1710,"c":1711},
      {"i":541,"o":1711,"h":1713,"l":1699,"c":1706},
      {"i":542,"o":1706,"h":1712,"l":1704,"c":1711},
      {"i":543,"o":1711,"h":1713,"l":1703,"c":1705},
      {"i":544,"o":1705,"h":1711,"l":1703,"c":1709},
      {"i":545,"o":1708,"h":1711,"l":1704,"c":1710},
      {"i":546,"o":1709,"h":1715,"l":1707,"c":1711},
      {"i":547,"o":1716,"h":1717,"l":1708,"c":1710},
      {"i":548,"o":1710,"h":1712,"l":1675,"c":1678},
      {"i":549,"o":1678,"h":1690,"l":1676,"c":1688},
      {"i":550,"o":1685,"h":1689,"l":1683,"c":1687},
      {"i":551,"o":1687,"h":1689,"l":1684,"c":1688},
      {"i":552,"o":1687,"h":1695,"l":1686,"c":1694},
      {"i":553,"o":1694,"h":1696,"l":1689,"c":1690},
      {"i":554,"o":1691,"h":1693,"l":1687,"c":1688},
      {"i":555,"o":1688,"h":1698,"l":1686,"c":1695},
      {"i":556,"o":1695,"h":1697,"l":1679,"c":1681},
      {"i":557,"o":1681,"h":1697,"l":1680,"c":1696},
      {"i":558,"o":1696,"h":1698,"l":1694,"c":1697},
      {"i":559,"o":1697,"h":1708,"l":1695,"c":1707},
      {"i":560,"o":1707,"h":1709,"l":1703,"c":1706},
      {"i":561,"o":1706,"h":1707,"l":1702,"c":1704},
      {"i":562,"o":1704,"h":1706,"l":1702,"c":1705},
      {"i":563,"o":1705,"h":1715,"l":1703,"c":1714},
      {"i":564,"o":1714,"h":1716,"l":1708,"c":1710},
      {"i":565,"o":1710,"h":1724,"l":1709,"c":1722},
      {"i":566,"o":1722,"h":1725,"l":1712,"c":1713},
      {"i":567,"o":1713,"h":1718,"l":1710,"c":1712},
      {"i":568,"o":1712,"h":1718,"l":1710,"c":1716},
      {"i":569,"o":1716,"h":1724,"l":1714,"c":1722},
      {"i":570,"o":1722,"h":1728,"l":1718,"c":1725},
      {"i":571,"o":1725,"h":1729,"l":1719,"c":1721},
      {"i":572,"o":1721,"h":1726,"l":1718,"c":1724},
      {"i":573,"o":1724,"h":1727,"l":1720,"c":1722},
      {"i":574,"o":1722,"h":1724,"l":1700,"c":1707},
      {"i":575,"o":1707,"h":1712,"l":1702,"c":1704},
      {"i":576,"o":1704,"h":1707,"l":1700,"c":1706},
      {"i":577,"o":1706,"h":1713,"l":1704,"c":1712},
      {"i":578,"o":1710,"h":1721,"l":1709,"c":1716},
      {"i":579,"o":1716,"h":1721,"l":1714,"c":1720},
      {"i":580,"o":1716,"h":1718,"l":1713,"c":1715},
      {"i":581,"o":1715,"h":1717,"l":1708,"c":1710},
      {"i":582,"o":1710,"h":1716,"l":1709,"c":1714},
      {"i":583,"o":1714,"h":1716,"l":1711,"c":1715},
      {"i":584,"o":1715,"h":1719,"l":1713,"c":1718},
      {"i":585,"o":1719,"h":1724,"l":1717,"c":1723},
      {"i":586,"o":1723,"h":1726,"l":1719,"c":1724},
      {"i":587,"o":1724,"h":1726,"l":1719,"c":1720},
      {"i":588,"o":1720,"h":1725,"l":1718,"c":1719},
      {"i":589,"o":1719,"h":1727,"l":1717,"c":1725},
      {"i":590,"o":1725,"h":1737,"l":1724,"c":1736},
      {"i":591,"o":1736,"h":1738,"l":1731,"c":1732},
      {"i":592,"o":1732,"h":1738,"l":1730,"c":1737},
      {"i":593,"o":1737,"h":1745,"l":1735,"c":1742},
      {"i":594,"o":1742,"h":1743,"l":1736,"c":1737},
      {"i":595,"o":1737,"h":1739,"l":1734,"c":1738},
      {"i":596,"o":1738,"h":1744,"l":1736,"c":1742},
      {"i":597,"o":1741,"h":1753,"l":1740,"c":1752},
      {"i":598,"o":1749.2,"h":1756.5,"l":1656.5,"c":1664.4},
      {"i":599,"o":1664.4,"h":1681.4,"l":1627,"c":1628.3},
      {"i":600,"o":1628.3,"h":1636.7,"l":1612,"c":1613.6},
      {"i":601,"o":1619.2,"h":1622,"l":1606,"c":1608.5},
      {"i":602,"o":1608.5,"h":1615.3,"l":1597.2,"c":1607.4},
      {"i":603,"o":1607.4,"h":1610,"l":1597.8,"c":1604},
      {"i":604,"o":1603.4,"h":1611.9,"l":1593.8,"c":1610.2},
      {"i":605,"o":1610,"h":1613,"l":1598,"c":1605.4},
      {"i":606,"o":1605.43,"h":1606.04,"l":1588.95,"c":1591.44}
    ]
  },
  "resolve": {"axis": {"x": "independent"}},
  "layer": [
    {
      "data": {"name": "levels"},
      "mark": {"type": "rule", "strokeWidth": 1.5},
      "encoding": {
        "y": {
          "field": "price",
          "type": "quantitative",
          "title": null,
          "scale": {"domain": [1481.2, 1802.3], "nice": false, "zero": false},
          "axis": {
            "orient": "right",
            "title": null,
            "zindex": 0,
            "values": [1487.10, 1497.75, 1508.40, 1519.05, 1529.70, 1540.35, 1551.15, 1561.80, 1572.45, 1583.10, 1593.75, 1604.40, 1615.20, 1625.85, 1636.50, 1647.15, 1657.80, 1668.45, 1679.10, 1689.90, 1700.55, 1711.20, 1721.85, 1732.50, 1743.15, 1753.80, 1764.60, 1775.25, 1785.90, 1796.55],
            "labels": false,
            "grid": true,
            "tickSize": 4
          }
        },
        "color": {
          "field": "kind",
          "type": "nominal",
          "scale": {"domain": ["ext", "major", "weak", "rev", "range"], "range": ["#ff00ff", "#1e90ff", "#ff8c00", "#ff4500", "#556b2f"]},
          "legend": null
        },
        "strokeDash": {
          "field": "kind",
          "type": "nominal",
          "scale": {"domain": ["ext", "major", "weak", "rev", "range"], "range": [[15, 7], [1, 0], [15, 7], [15, 7], [15, 7]]},
          "legend": null
        }
      }
    },
    {
      "data": {"name": "bid"},
      "mark": {"type": "rule", "color": "#b8b8b8", "strokeWidth": 1.5},
      "encoding": {
        "y": {"field": "price", "type": "quantitative", "title": null}
      }
    },
    {
      "data": {"name": "levels"},
      "mark": {"type": "text", "align": "center", "baseline": "top", "dy": 2, "font": "Liberation Sans", "fontSize": 21},
      "encoding": {
        "x": {"datum": 580.4, "type": "quantitative", "axis": null},
        "y": {"field": "price", "type": "quantitative", "title": null},
        "text": {"field": "label"},
        "color": {"field": "kind", "type": "nominal", "legend": null}
      }
    },
    {
      "data": {"name": "header"},
      "mark": {"type": "text", "align": "left", "baseline": "alphabetic", "dx": 7, "dy": 26, "font": "DejaVu Sans Condensed", "fontSize": 18, "color": "black"},
      "encoding": {
        "x": {"datum": -0.5, "type": "quantitative", "axis": null},
        "y": {"datum": 1802.3, "type": "quantitative", "title": null},
        "text": {"field": "text"}
      }
    },
    {
      "data": {"name": "bars"},
      "mark": {"type": "rule", "color": "black", "strokeWidth": 1.3},
      "encoding": {
        "x": {
          "field": "i",
          "type": "quantitative",
          "scale": {"domain": [-0.5, 935.25], "nice": false, "zero": false},
          "axis": {
            "orient": "top",
            "title": null,
            "zindex": 0,
            "values": [0, 16, 32, 48, 64, 80, 96, 112, 128, 144, 160, 176, 192, 208, 224, 240, 256, 272, 288, 304, 320, 336, 352, 368, 384, 400, 416, 432, 448, 464, 480, 496, 512, 528, 544, 560, 576, 592, 608, 624, 640, 656, 672, 688, 704, 720, 736, 752, 768, 784, 800, 816, 832, 848, 864, 880, 896, 912, 928],
            "grid": true,
            "labels": false,
            "ticks": false,
            "domain": false
          }
        },
        "y": {"field": "l", "type": "quantitative", "title": null},
        "y2": {"field": "h"}
      }
    },
    {
      "data": {"name": "bars"},
      "mark": {"type": "bar", "size": 2, "stroke": "black", "strokeWidth": 1.2},
      "encoding": {
        "x": {
          "field": "i",
          "type": "quantitative",
          "axis": {
            "orient": "bottom",
            "title": null,
            "zindex": 0,
            "values": [0, 32, 64, 96, 128, 160, 192, 224, 256, 288, 320, 352, 384, 416, 448, 480, 512, 544, 576],
            "labelExpr": "['7 Sep 2022','7 Sep 11:00','7 Sep 19:00','8 Sep 03:00','8 Sep 11:00','8 Sep 19:00','9 Sep 03:00','9 Sep 11:00','9 Sep 19:00','10 Sep 03:00','10 Sep 17:00','11 Sep 01:00','11 Sep 10:00','11 Sep 18:00','12 Sep 02:00','12 Sep 10:00','12 Sep 18:00','13 Sep 02:00','13 Sep 10:00'][round(datum.value / 32)]",
            "grid": false,
            "tickSize": 5,
            "labelPadding": 1,
            "labelAlign": "left",
            "labelBaseline": "top",
            "labelOverlap": false,
            "labelFlush": false
          }
        },
        "y": {"field": "o", "type": "quantitative", "title": null},
        "y2": {"field": "c"},
        "fill": {"condition": {"test": "datum.c < datum.o", "value": "black"}, "value": "white"}
      }
    },
    {
      "data": {"name": "yticks"},
      "mark": {"type": "text", "align": "left", "baseline": "middle", "dx": 10, "dy": 3, "color": "black", "font": "DejaVu Sans Condensed", "fontSize": 18},
      "encoding": {
        "x": {"datum": 935.25, "type": "quantitative", "axis": null},
        "y": {"field": "v", "type": "quantitative", "title": null},
        "text": {"field": "v", "type": "quantitative", "format": ".2f"}
      }
    },
    {
      "data": {"name": "bid"},
      "mark": {"type": "rule", "color": "black", "strokeWidth": 18, "strokeCap": "butt", "yOffset": 6},
      "encoding": {
        "x": {"datum": 937.5, "type": "quantitative", "axis": null},
        "x2": {"datum": 956.75},
        "y": {"field": "price", "type": "quantitative", "title": null}
      }
    },
    {
      "data": {"name": "bid"},
      "mark": {"type": "text", "align": "left", "baseline": "middle", "dy": 6, "color": "white", "font": "DejaVu Sans Condensed", "fontSize": 18},
      "encoding": {
        "x": {"datum": 937.75, "type": "quantitative", "axis": null},
        "y": {"field": "price", "type": "quantitative", "title": null},
        "text": {"field": "price", "type": "quantitative", "format": ".2f"}
      }
    },
    {
      "data": {"name": "levels"},
      "mark": {"type": "rule", "strokeWidth": 18, "strokeCap": "butt", "yOffset": 6},
      "encoding": {
        "x": {"datum": 937.5, "type": "quantitative", "axis": null},
        "x2": {"datum": 956.75},
        "y": {"field": "price", "type": "quantitative", "title": null},
        "color": {"field": "kind", "type": "nominal", "legend": null}
      }
    },
    {
      "data": {"name": "levels"},
      "mark": {"type": "text", "align": "left", "baseline": "middle", "dy": 6, "color": "white", "font": "DejaVu Sans Condensed", "fontSize": 18},
      "encoding": {
        "x": {"datum": 937.75, "type": "quantitative", "axis": null},
        "y": {"field": "price", "type": "quantitative", "title": null},
        "text": {"field": "price", "type": "quantitative", "format": ".2f"}
      }
    },
    {
      "data": {"name": "marker"},
      "mark": {"type": "point", "shape": "M-1,-1L1,1M1,-1L-1,1", "filled": false, "stroke": "#e8413c", "strokeWidth": 7, "size": 1100, "opacity": 0.85},
      "encoding": {
        "x": {"field": "i", "type": "quantitative", "axis": null},
        "y": {"field": "p", "type": "quantitative", "title": null}
      }
    }
  ]
}
